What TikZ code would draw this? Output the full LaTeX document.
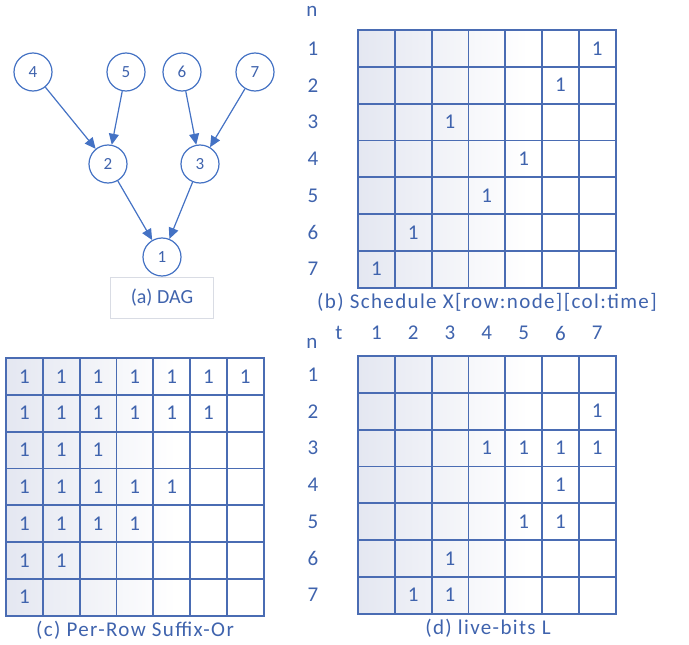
\documentclass[tikz,border=0pt]{standalone}
\usepackage{fontspec}
\setmainfont{Carlito}
\newfontfamily\spacedfont[LetterSpace=6.5]{Carlito}
\usetikzlibrary{arrows.meta,positioning}
\definecolor{dagblue}{HTML}{4472C4}
\definecolor{gridblue}{HTML}{4A6CB3}
\definecolor{inkblue}{HTML}{3F63AD}
\definecolor{cellshade}{HTML}{E4E7F1}
\definecolor{boxgrey}{HTML}{D9DCE4}

\tikzset{
  dagnode/.style={circle,draw=dagblue,line width=1.2pt,fill=white,
    minimum size=38pt,inner sep=0pt,text=inkblue,
    font=\fontsize{17}{17}\selectfont},
  dagedge/.style={-{Triangle[length=11pt,width=10pt]},dagblue,line width=1.2pt},
  gridline/.style={gridblue,line width=1.8pt,line cap=rect},
  bit/.style={text=inkblue,inner sep=0pt,font=\fontsize{21}{21}\selectfont},
  axislabel/.style={text=inkblue,inner sep=0pt,font=\fontsize{21}{21}\selectfont},
  caption/.style={text=inkblue,inner sep=0pt,font=\spacedfont\fontsize{21}{22}\selectfont},
}

\newcommand{\bitgrid}[2]{%
  \shade[left color=cellshade,right color=white] (#1,#2) rectangle ++(170,257.6);
  \foreach \k in {0,...,7}{
    \draw[gridline] ({#1+\k*36.8},#2) -- ++(0,257.6);
    \draw[gridline] (#1,{#2+\k*36.8}) -- ++(257.6,0);
  }}

\begin{document}
\begin{tikzpicture}[x=1pt,y=-1pt]
    \useasboundingbox (0,0) rectangle (689,645);
    % (a) DAG
    \node[dagnode] (n4) at (33,72) {4};
    \node[dagnode] (n5) at (126,72) {5};
    \node[dagnode] (n6) at (182,72) {6};
    \node[dagnode] (n7) at (255,72) {7};
    \node[dagnode] (n2) at (108,164) {2};
    \node[dagnode] (n3) at (200,164) {3};
    \node[dagnode] (n1) at (162,257) {1};
    \draw[dagedge] (n4) -- (n2);
    \draw[dagedge] (n5) -- (n2);
    \draw[dagedge] (n6) -- (n3);
    \draw[dagedge] (n7) -- (n3);
    \draw[dagedge] (n2) -- (n1);
    \draw[dagedge] (n3) -- (n1);
    \node[caption,draw=boxgrey,line width=.8pt,minimum width=103pt,
      minimum height=41pt,font=\fontsize{20}{22}\selectfont] (capa) at (162,298) {(a) DAG};
    % (b) schedule
    \bitgrid{358}{30}
    \node[axislabel] (nb) at (312,11) {n};
    \foreach \r in {1,...,7}
      \node[axislabel] (rb-\r) at (313,{30+(\r-.5)*36.8}) {\r};
    \foreach \r/\c in {1/7,2/6,3/3,4/5,5/4,6/2,7/1}
      \node[bit] (xb-\r-\c) at ({358+(\c-.5)*36.8},{30+(\r-.5)*36.8}) {1};
    \node[caption] (capb) at (487,302) {(b) Schedule X[row:node][col:time]};
    % (c) suffix-or
    \bitgrid{6}{358}
    \foreach \r/\n in {1/7,2/6,3/3,4/5,5/4,6/2,7/1}
      \foreach \c in {1,...,\n}
        \node[bit] (xc-\r-\c) at ({6+(\c-.5)*36.8},{358+(\r-.5)*36.8}) {1};
    \node[caption] (capc) at (135,630) {(c) Per-Row Suffix-Or};
    % (d) live bits
    \bitgrid{358}{356}
    \node[axislabel] (nd) at (312,343) {n};
    \node[axislabel] (td) at (339,333) {t};
    \foreach \k in {1,...,7}{
      \node[axislabel] (cd-\k) at ({358+(\k-.5)*36.8},333) {\k};
      \node[axislabel] (rd-\k) at (313,{356+(\k-.5)*36.8}) {\k};
    }
    \foreach \r/\c in {2/7,3/4,3/5,3/6,3/7,4/6,5/5,5/6,6/3,7/2,7/3}
      \node[bit] (xd-\r-\c) at ({358+(\c-.5)*36.8},{356+(\r-.5)*36.8}) {1};
    \node[caption] (capd) at (488,628) {(d) live-bits L};
  \end{tikzpicture}
\end{document}
